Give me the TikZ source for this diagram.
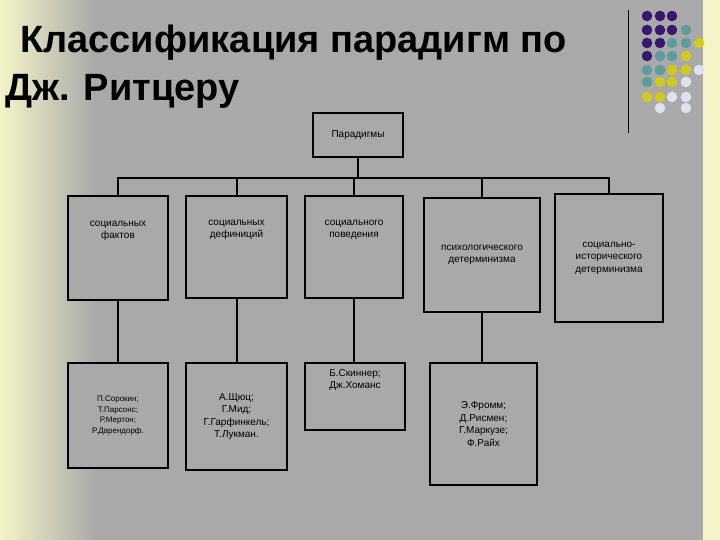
\documentclass[tikz,border=0pt]{standalone}
\usepackage{fontspec}
\setmainfont{Liberation Sans}
\begin{document}
\begin{tikzpicture}[x=1pt,y=-1pt,
  bx/.style={draw=black,line width=1.3pt,fill=bggray,inner sep=0pt,align=center,font=\fontsize{10}{12.5}\selectfont},
  sm/.style={bx,font=\fontsize{8}{10.5}\selectfont},
  tt/.style={anchor=base west,inner sep=0pt,font=\fontsize{38}{40}\selectfont\bfseries},
  ln/.style={line width=2pt}]
\definecolor{bggray}{HTML}{A9A9A9}
\definecolor{pyel}{HTML}{F4F4C8}
\definecolor{dpur}{HTML}{3A1670}
\definecolor{dteal}{HTML}{5E9C9C}
\definecolor{dyel}{HTML}{D2C81E}
\definecolor{dwht}{HTML}{E0E0EE}
\useasboundingbox (0,0) rectangle (720,540);
\fill[bggray] (0,0) rectangle (720,540);
\shade[left color=pyel,right color=bggray] (0,0) rectangle (95,540);
\fill[pyel] (703,0) rectangle (720,540);
\draw[line width=1pt] (628,10) coordinate (v1) -- (628,133) coordinate (v2);
\foreach \r/\cols in {16/{647/dpur,660/dpur,672/dpur},
 30/{647/dpur,660/dpur,672/dpur,686/dteal},
 43/{647/dpur,660/dpur,672/dteal,686/dteal,699/dyel},
 56/{647/dpur,660/dteal,672/dteal,686/dyel},
 70/{647/dteal,660/dteal,672/dyel,686/dyel,699/dwht},
 82/{647/dteal,660/dyel,672/dyel,686/dwht},
 97/{647/dyel,660/dyel,672/dwht,686/dwht},
 108/{660/dwht,686/dwht}}
 {\foreach \c/\col in \cols {\fill[\col] (\c,\r) circle (5.3);}}
\node[tt] (t1) at (20,53) {Классификация парадигм по};
\node[tt] (t2) at (5,101) {Дж. Ритцеру};
\node[bx,minimum width=90,minimum height=44] (p) at (358,135) {Парадигмы};
\node[bx,minimum width=100,minimum height=104] (a1) at (118,248) {социальных\\фактов\\[24pt]};
\node[bx,minimum width=101,minimum height=102] (a2) at (236.5,247) {социальных\\дефиниций\\[24pt]};
\node[bx,minimum width=98,minimum height=102] (a3) at (354,247) {социального\\поведения\\[24pt]};
\node[bx,minimum width=116,minimum height=114] (a4) at (482,255) {психологического\\детерминизма};
\node[bx,minimum width=108,minimum height=128] (a5) at (609,258) {социально-\\исторического\\детерминизма};
\node[sm,minimum width=100,minimum height=105] (b1) at (118,415.5) {П.Сорокин;\\Т.Парсонс;\\Р.Мертон;\\Р.Дарендорф.};
\node[bx,minimum width=101,minimum height=107] (b2) at (236.5,416.5) {А.Щюц;\\Г.Мид;\\Г.Гарфинкель;\\Т.Лукман.};
\node[bx,minimum width=100,minimum height=67] (b3) at (355,396.5) {Б.Скиннер;\\Дж.Хоманс\\[22pt]};
\node[bx,minimum width=107,minimum height=122] (b4) at (483.5,424) {Э.Фромм;\\Д.Рисмен;\\Г.Маркузе;\\Ф.Райх};
\coordinate (h) at (358,178);
\draw[ln] (p.south) -- (h);
\draw[ln] (a1.north) |- (h) -| (a5.north);
\draw[ln] (a2.north) -- (a2.north |- h);
\draw[ln] (a3.north) -- (a3.north |- h);
\draw[ln] (a4.north) -- (a4.north |- h);
\draw[ln] (a1) -- (b1);
\draw[ln] (a2) -- (b2);
\draw[ln] (a3.south) -- (a3.south |- b3.north);
\draw[ln] (a4.south) -- (a4.south |- b4.north);
\end{tikzpicture}
\end{document}
